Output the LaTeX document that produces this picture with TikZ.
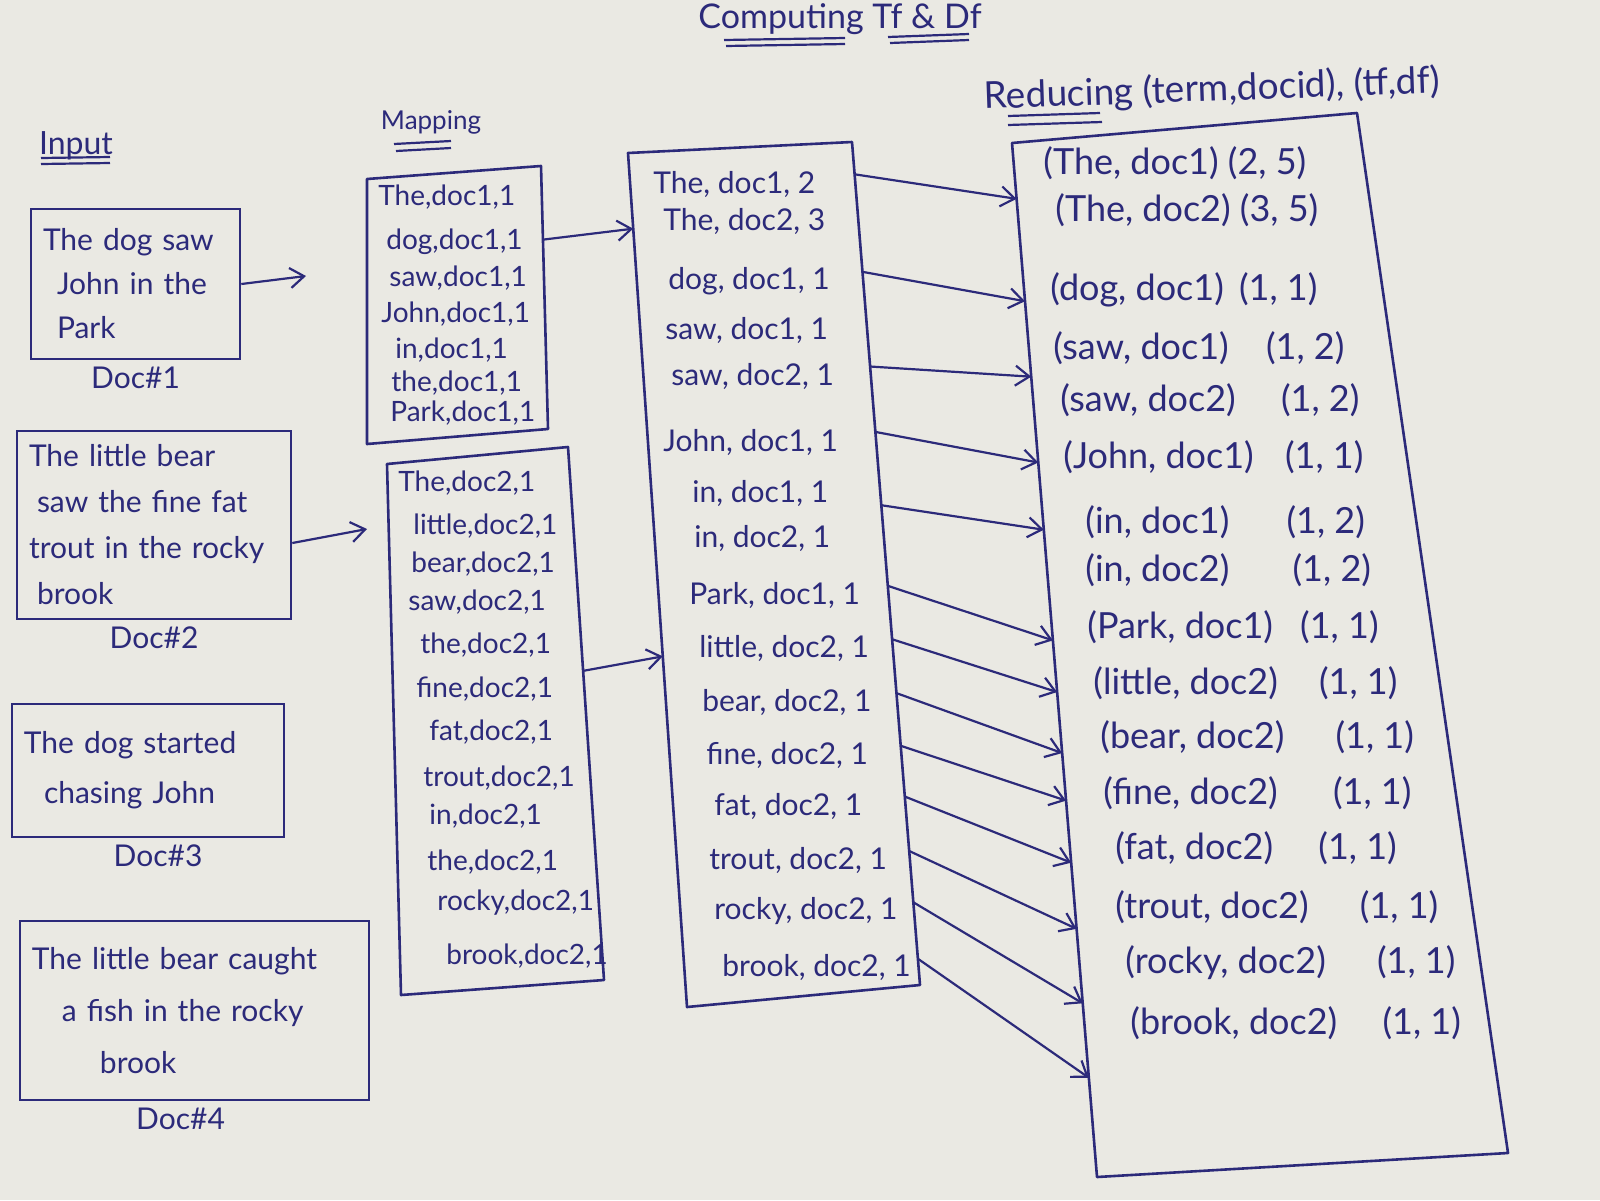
\documentclass[tikz,border=0pt]{standalone}
\usepackage{fontspec}
\setmainfont{Lato}
\usetikzlibrary{arrows.meta, calc, positioning}
\definecolor{ink}{RGB}{44,42,122}
\definecolor{paper}{RGB}{234,233,227}

\begin{document}
\begin{tikzpicture}
    [
        x=0.5pt, y=-0.5pt, color=ink,
        head/.style  ={font=\fontsize{16}{19}\selectfont, inner sep=1pt},
        doc/.style   ={draw, line width=1.3pt, align=left, inner xsep=6pt,
                       font=\fontsize{15}{22}\selectfont},
        doclab/.style={font=\fontsize{15}{18}\selectfont, inner sep=3pt},
        maprow/.style={anchor=west, inner sep=0pt, font=\fontsize{14}{16}\selectfont},
        grprow/.style={anchor=west, inner sep=0pt, font=\fontsize{15}{18}\selectfont},
        redrow/.style={anchor=west, inner sep=0pt, font=\fontsize{18}{21}\selectfont},
        list/.style  ={draw, line width=1.3pt, line join=round},
        oarc/.style  ={-{Straight Barb[length=7pt,width=10pt]}, line width=1.1pt},
        uline/.style ={line width=1.1pt}
    ]

    \fill[paper] (0,0) rectangle (1600,1200);

    % headings
    \node[head, font=\fontsize{17}{20}\selectfont] (title) at (840,19) {Computing Tf \& Df};
    \node[head]  (hin)    at (76,146)               {Input};
    \node[head, font=\fontsize{13}{16}\selectfont] (hmap) at (431,122) {Mapping};
    \node[head, rotate=2, font=\fontsize{18.5}{21}\selectfont] (hred) at (1212,90)
                                                    {Reducing (term,docid), (tf,df)};

    \draw[uline] (724,40) -- (845,38);
    \draw[uline] (726,46) -- (845,44);
    \draw[uline] (888,37) -- (969,34);
    \draw[uline] (890,43) -- (969,40);
    \draw[uline] (41,158) -- (110,157);
    \draw[uline] (41,164) -- (110,163);
    \draw[uline] (394,144) -- (451,141);
    \draw[uline] (396,151) -- (451,148);
    \draw[uline] (1008,116) -- (1100,113);
    \draw[uline] (1008,125) -- (1102,122);

    % input documents
    \node[doc, text width=92.5pt, minimum height=75pt,
          label={[doclab]below:Doc\#1}]  (d1)  at (135.5,284)
          {The dog saw\\\hspace*{7pt}John in the\\\hspace*{7pt}Park};
    \node[doc, text width=125pt, minimum height=94pt, font=\fontsize{15}{23}\selectfont,
          label={[doclab]below:Doc\#2}]  (d2)  at (154,525)
          {The little bear\\\hspace*{4pt}saw the fine fat\\trout in the rocky\\\hspace*{4pt}brook};
    \node[doc, text width=124pt, minimum height=66.5pt, font=\fontsize{15}{25}\selectfont,
          label={[doclab, xshift=5pt]below:Doc\#3}]  (d3)  at (148,770.5)
          {The dog started\\\hspace*{10pt}chasing John};
    \node[doc, text width=162.5pt, minimum height=89.5pt, font=\fontsize{15}{26}\selectfont,
          label={[doclab, xshift=-7pt]below:Doc\#4}]  (d4)  at (194.5,1010.5)
          {The little bear caught\\\hspace*{15pt}a fish in the rocky\\\hspace*{34pt}brook};

    % mapping, doc1
    \coordinate (p1nw) at (367,179);
    \coordinate (p1ne) at (541,166);
    \coordinate (p1se) at (548,429);
    \coordinate (p1sw) at (367,444);
    \draw[list] (p1nw) -- (p1ne) -- (p1se) -- (p1sw) -- cycle;

    \node[maprow] (u1) at (378,197) {The,doc1,1};
    \node[maprow] (u2) at (386,242) {dog,doc1,1};
    \node[maprow] (u3) at (389,278) {saw,doc1,1};
    \node[maprow] (u4) at (381,314) {John,doc1,1};
    \node[maprow] (u5) at (395,350) {in,doc1,1};
    \node[maprow] (u6) at (391,383) {the,doc1,1};
    \node[maprow] (u7) at (390,413) {Park,doc1,1};

    % mapping, doc2
    \coordinate (p2nw) at (387,464);
    \coordinate (p2ne) at (568,447);
    \coordinate (p2se) at (604,980);
    \coordinate (p2sw) at (401,995);
    \draw[list] (p2nw) -- (p2ne) -- (p2se) -- (p2sw) -- cycle;

    \node[maprow] (v1)  at (398,483) {The,doc2,1};
    \node[maprow] (v2)  at (413,526) {little,doc2,1};
    \node[maprow] (v3)  at (411,564) {bear,doc2,1};
    \node[maprow] (v4)  at (408,602) {saw,doc2,1};
    \node[maprow] (v5)  at (420,645) {the,doc2,1};
    \node[maprow] (v6)  at (416,689) {fine,doc2,1};
    \node[maprow] (v7)  at (429,732) {fat,doc2,1};
    \node[maprow] (v8)  at (423,778) {trout,doc2,1};
    \node[maprow] (v9)  at (429,816) {in,doc2,1};
    \node[maprow] (v10) at (427,862) {the,doc2,1};
    \node[maprow] (v11) at (437,903) {rocky,doc2,1};
    \node[maprow] (v12) at (446,956) {brook,doc2,1};

    % grouped pairs
    \coordinate (gnw) at (628,153);
    \coordinate (gne) at (852,142);
    \coordinate (gse) at (920,985);
    \coordinate (gsw) at (687,1007);
    \draw[list] (gnw) -- (gne) -- (gse) -- (gsw) -- cycle;

    \node[grprow] (g1)  at (653,184) {The, doc1, 2};
    \node[grprow] (g2)  at (663,221) {The, doc2, 3};
    \node[grprow] (g3)  at (668,281) {dog, doc1, 1};
    \node[grprow] (g4)  at (665,330) {saw, doc1, 1};
    \node[grprow] (g5)  at (671,376) {saw, doc2, 1};
    \node[grprow] (g6)  at (663,442) {John, doc1, 1};
    \node[grprow] (g7)  at (692,493) {in, doc1, 1};
    \node[grprow] (g8)  at (694,538) {in, doc2, 1};
    \node[grprow] (g9)  at (689,595) {Park, doc1, 1};
    \node[grprow] (g10) at (699,648) {little, doc2, 1};
    \node[grprow] (g11) at (702,702) {bear, doc2, 1};
    \node[grprow] (g12) at (706,755) {fine, doc2, 1};
    \node[grprow] (g13) at (714,806) {fat, doc2, 1};
    \node[grprow] (g14) at (709,860) {trout, doc2, 1};
    \node[grprow] (g15) at (714,911) {rocky, doc2, 1};
    \node[grprow] (g16) at (722,967) {brook, doc2, 1};

    % reducing
    \coordinate (rnw) at (1012,143);
    \coordinate (rne) at (1357,113);
    \coordinate (rse) at (1508,1153);
    \coordinate (rsw) at (1097,1177);
    \draw[list] (rnw) -- (rne) -- (rse) -- (rsw) -- cycle;

    \node[redrow] (r1)  at (1043,163)  {(The, doc1) (2, 5)};
    \node[redrow] (r2)  at (1055,210)  {(The, doc2) (3, 5)};
    \node[redrow] (r3)  at (1050,290)  {(dog, doc1)\hspace{3pt} (1, 1)};
    \node[redrow] (r4)  at (1053,348)  {(saw, doc1)\hspace{14pt} (1, 2)};
    \node[redrow] (r5)  at (1060,400)  {(saw, doc2)\hspace{18pt} (1, 2)};
    \node[redrow] (r6)  at (1063,457)  {(John, doc1)\hspace{11pt} (1, 1)};
    \node[redrow] (r7)  at (1085,522)  {(in, doc1)\hspace{24pt} (1, 2)};
    \node[redrow] (r8)  at (1085,570)  {(in, doc2)\hspace{27pt} (1, 2)};
    \node[redrow] (r9)  at (1087,627)  {(Park, doc1)\hspace{9pt} (1, 1)};
    \node[redrow] (r10) at (1093,683)  {(little, doc2)\hspace{16pt} (1, 1)};
    \node[redrow] (r11) at (1100,737)  {(bear, doc2)\hspace{21pt} (1, 1)};
    \node[redrow] (r12) at (1103,793)  {(fine, doc2)\hspace{23pt} (1, 1)};
    \node[redrow] (r13) at (1115,848)  {(fat, doc2)\hspace{18pt} (1, 1)};
    \node[redrow] (r14) at (1115,907)  {(trout, doc2)\hspace{21pt} (1, 1)};
    \node[redrow] (r15) at (1125,963)  {(rocky, doc2)\hspace{21pt} (1, 1)};
    \node[redrow] (r16) at (1130,1023) {(brook, doc2)\hspace{18pt} (1, 1)};

    % arrows
    \coordinate (c1) at (306,276);
    \coordinate (c2) at (367,529);
    \draw[oarc] (d1.east) -- (c1);
    \draw[oarc] ([yshift=-9pt]d2.east) -- (c2);
    \draw[oarc] ($(p1ne)!(u2)!(p1se)$) -- ($(gnw)!(g2)!(gsw)$);
    \draw[oarc] ($(p2ne)!.42!(p2se)$) -- ($(gnw)!(g10)!(gsw)$);

    \draw[oarc] ($(gne)!(g1)!(gse)$)  -- ($(rnw)!.054!(rsw)$);
    \draw[oarc] ($(gne)!(g3)!(gse)$)  -- ($(rnw)!.153!(rsw)$);
    \draw[oarc] ($(gne)!(g5)!(gse)$)  -- ($(rnw)!.226!(rsw)$);
    \draw[oarc] ($(gne)!(g6)!(gse)$)  -- ($(rnw)!.309!(rsw)$);
    \draw[oarc] ($(gne)!([yshift=-11pt]g7)!(gse)$) -- ($(rnw)!.374!(rsw)$);
    \draw[oarc] ($(gne)!(g9)!(gse)$)  -- ($(rnw)!.481!(rsw)$);
    \draw[oarc] ($(gne)!(g10)!(gse)$) -- ($(rnw)!.531!(rsw)$);
    \draw[oarc] ($(gne)!(g11)!(gse)$) -- ($(rnw)!.590!(rsw)$);
    \draw[oarc] ($(gne)!(g12)!(gse)$) -- ($(rnw)!.636!(rsw)$);
    \draw[oarc] ($(gne)!(g13)!(gse)$) -- ($(rnw)!.696!(rsw)$);
    \draw[oarc] ($(gne)!(g14)!(gse)$) -- ($(rnw)!.760!(rsw)$);
    \draw[oarc] ($(gne)!(g15)!(gse)$) -- ($(rnw)!.832!(rsw)$);
    \draw[oarc] ($(gne)!(g16)!(gse)$) -- ($(rnw)!.904!(rsw)$);

\end{tikzpicture}
\end{document}
